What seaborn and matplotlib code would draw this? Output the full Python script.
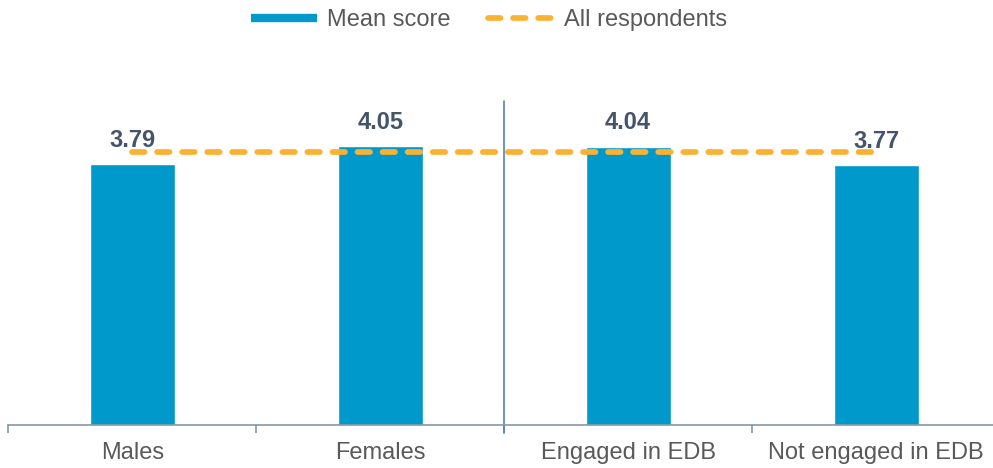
import matplotlib
matplotlib.use("Agg")
import matplotlib.pyplot as plt
from matplotlib.lines import Line2D
import seaborn as sns

# Mean scores by respondent group
groups = ["Males", "Females", "Engaged in EDB", "Not engaged in EDB"]
mean_scores = [3.79, 4.05, 4.04, 3.77]
all_respondents = 3.96

BAR_COLOR = "#0099CC"
AVG_COLOR = "#FBB232"
LABEL_COLOR = "#44546A"
TEXT_COLOR = "#595959"
AXIS_COLOR = "#8497A8"
SEP_COLOR = "#5A7DBA"

sns.set_theme(style="white")
plt.rcParams["font.family"] = ["Liberation Sans", "DejaVu Sans"]

fig = plt.figure(figsize=(9.93, 4.68), dpi=100)
ax = fig.add_axes([8.3 / 993, 43 / 468, (1000 - 8.3) / 993, 324.3 / 468])

sns.barplot(x=groups, y=mean_scores, color=BAR_COLOR, saturation=1,
            width=0.343, ax=ax)

positions = list(range(len(groups)))
sns.lineplot(x=positions, y=[all_respondents] * len(groups), ax=ax,
             color=AVG_COLOR, linewidth=4.1, sort=False)
avg_line = ax.lines[-1]
avg_line.set_linestyle((0, (2.2, 2.2)))
avg_line.set_dash_capstyle("round")

# Value labels above bars
for pos, val in zip(positions, mean_scores):
    ax.annotate(f"{val:.2f}", xy=(pos, val), xytext=(0, 12.5),
                textcoords="offset points", ha="center", va="baseline",
                fontsize=17, fontweight="bold", color=LABEL_COLOR)

ax.set_xlim(-0.5, len(groups) - 0.5)
ax.set_ylim(0, 4.71)

for side in ["top", "right", "left"]:
    ax.spines[side].set_visible(False)
ax.spines["bottom"].set_color(AXIS_COLOR)
ax.spines["bottom"].set_linewidth(1.2)
ax.set_yticks([])
ax.set_ylabel("")
ax.set_xlabel("")

ax.set_xticks(positions)
ax.set_xticklabels(groups)
ax.set_xticks([p - 0.5 for p in range(len(groups) + 1)], minor=True)
ax.tick_params(axis="x", which="major", length=0, pad=12,
               labelsize=17, labelcolor=TEXT_COLOR)
ax.tick_params(axis="x", which="minor", length=5.8, width=1.2,
               color=AXIS_COLOR, bottom=True)

# Divider between the gender and EDB groupings
ax.axvline(1.5, ymin=-8 / 324.3, ymax=1, clip_on=False,
           color=SEP_COLOR, linewidth=1.2)

handles = [
    Line2D([0], [0], color=BAR_COLOR, linewidth=6, solid_capstyle="butt"),
    Line2D([0], [0], color=AVG_COLOR, linewidth=4.1,
           linestyle=(0, (2.2, 2.2)), dash_capstyle="round"),
]
fig.legend(handles, ["Mean score", "All respondents"], loc="center",
           bbox_to_anchor=(0.4925, 0.957), ncol=2, frameon=False,
           fontsize=17, labelcolor=TEXT_COLOR, handlelength=2.8,
           handletextpad=0.4, columnspacing=1.6)

fig.savefig("out.png", dpi=100)
